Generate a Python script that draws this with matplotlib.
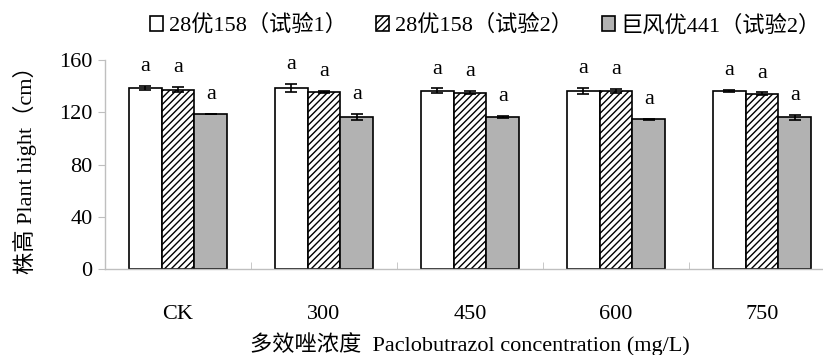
import matplotlib.pyplot as plt
import numpy as np

plt.rcParams['font.family'] = ['Liberation Serif', 'Noto Sans CJK SC']
plt.rcParams['hatch.linewidth'] = 1.0

# data
groups = ['CK', '300', '450', '600', '750']
series = ['28优158（试验1）', '28优158（试验2）', '巨风优441（试验2）']
h_trial1 = [138.7, 138.7, 136.4, 136.4, 136.4]
h_trial2 = [137.4, 135.6, 135.1, 136.4, 134.3]
h_jufeng = [118.8, 116.5, 116.5, 114.5, 116.0]
err_trial1 = [1.6, 3.0, 1.8, 2.2, 0.9]
err_trial2 = [2.0, 0.8, 1.4, 1.6, 1.0]
err_jufeng = [0.0, 2.4, 0.6, 0.7, 2.2]
letters = [['a'] * 5, ['a'] * 5, ['a'] * 5]

fig = plt.figure(figsize=(8.23, 3.55), dpi=100)
ax = fig.add_axes([105 / 823, 1 - 269 / 355, 730 / 823, 209 / 355])

x = np.arange(len(groups))
w = 0.226
styles = [dict(color='white', hatch=None),
          dict(color='white', hatch='/////'),
          dict(color='#b2b2b2', hatch=None)]
vals = [h_trial1, h_trial2, h_jufeng]
errs = [err_trial1, err_trial2, err_jufeng]

for i in range(3):
    pos = x + (i - 1) * w
    ax.bar(pos, vals[i], w, color=styles[i]['color'], hatch=styles[i]['hatch'],
           edgecolor='black', linewidth=1.2, label=series[i], zorder=2)
    ax.errorbar(pos, vals[i], yerr=errs[i], fmt='none', ecolor='black',
                elinewidth=1.2, capsize=4, capthick=1.2, zorder=3)
    for j in range(len(groups)):
        ax.annotate(letters[i][j], (pos[j], vals[i][j] + errs[i][j]),
                    xytext=(0, 7), textcoords='offset points',
                    ha='center', va='bottom', fontsize=16)

ax.set_xlim(-0.5, len(groups) - 0.5)
ax.set_ylim(0, 160)
ax.set_yticks([0, 40, 80, 120, 160])
ax.set_xticks(x)
ax.set_xticklabels(groups)
ax.set_xticks(np.arange(0.5, len(groups) - 0.5, 1), minor=True)
ax.tick_params(axis='x', which='major', length=0, pad=26, labelsize=16)
ax.tick_params(axis='x', which='minor', direction='in', length=5, color='#bfbfbf')
ax.tick_params(axis='y', length=5, color='#bfbfbf', labelsize=16, pad=4)

for s in ['top', 'right']:
    ax.spines[s].set_visible(False)
for s in ['left', 'bottom']:
    ax.spines[s].set_color('#bfbfbf')
    ax.spines[s].set_linewidth(1.0)

ax.set_ylabel('株高 Plant hight（cm）', fontsize=16, labelpad=16)
ax.set_xlabel('多效唑浓度  Paclobutrazol concentration (mg/L)', fontsize=16, labelpad=6)

leg = fig.legend(loc='upper left', bbox_to_anchor=(150 / 823, 1 - 15 / 355), ncol=3,
                 frameon=False, fontsize=16, handlelength=0.6, handleheight=0.6,
                 handletextpad=0.25, columnspacing=1.3, borderpad=0, borderaxespad=0)

fig.savefig('out.png', dpi=100)
